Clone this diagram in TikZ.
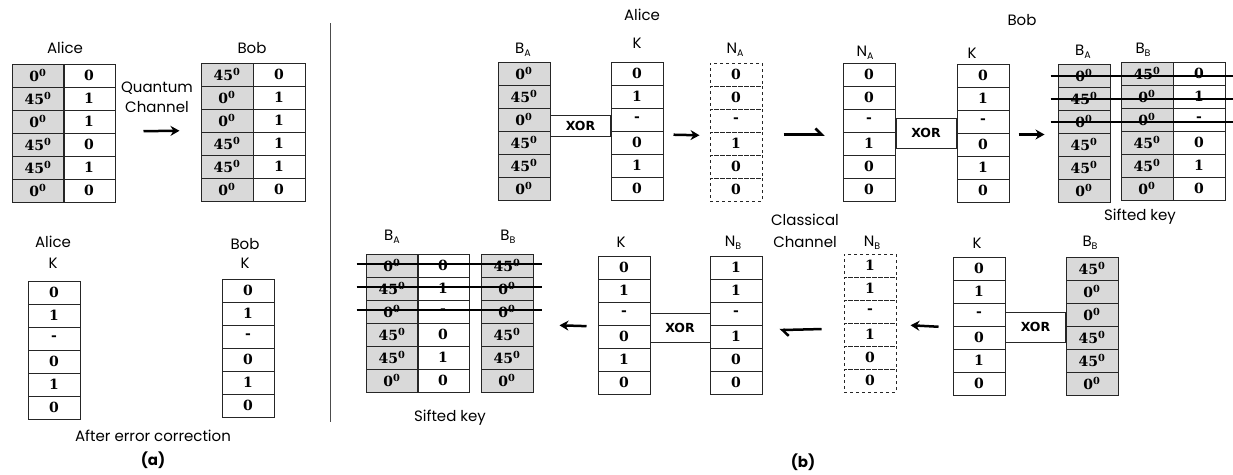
\documentclass[tikz,border=0pt]{standalone}
\usepackage{fontspec}
\setmainfont{Poppins}
\newfontfamily\cellfont{DejaVu Serif}
\newfontfamily\xorfont{DejaVu Sans}
\usetikzlibrary{arrows.meta}
\definecolor{cellgray}{RGB}{217,217,217}
\newcommand\dg[1]{#1\textsuperscript{0}}
\newcommand\sub[2]{#1\raisebox{-2.5pt}{\fontsize{9.5}{9.5}\selectfont #2}}
\newcommand\tcol[5]{%
  \foreach \t [count=\i] in {#5} {%
    \node[#4] (#1-\i) at ({#2+26},{#3+11.5+23*(\i-1)}) {\t};}}
\tikzset{
  cell/.style={draw=black!85, line width=1pt, minimum width=52pt, minimum height=23pt,
    inner sep=0pt, font=\cellfont\bfseries\fontsize{14}{14}\selectfont},
  gcell/.style={cell, fill=cellgray},
  dcell/.style={cell, dash pattern=on 3pt off 3pt},
  xorbox/.style={draw=black!85, line width=1pt, fill=white, minimum width=60pt,
    minimum height=#1, inner sep=0pt, font=\xorfont\bfseries\fontsize{12.5}{12.5}\selectfont},
  lbl/.style={font=\fontsize{15}{15}\selectfont, inner sep=0pt},
  arr/.style={line width=2.5pt, -{Stealth[length=9pt,width=10pt]}},
  harp/.style={line width=2.5pt, -{Straight Barb[left,length=6pt,width=12pt]}},
  strike/.style={line width=2pt, black},
}
\begin{document}
\begin{tikzpicture}[x=1pt,y=-1pt]
\useasboundingbox (0,0) rectangle (1233,474);
% ---------- (a) ----------
\tcol{aA1}{12}{64}{gcell}{\dg{0},\dg{45},\dg{0},\dg{45},\dg{45},\dg{0}}
\tcol{aA2}{63}{64}{cell}{0,1,1,0,1,0}
\tcol{aB1}{201}{63}{gcell}{\dg{45},\dg{0},\dg{0},\dg{45},\dg{45},\dg{0}}
\tcol{aB2}{253}{63}{cell}{0,1,1,1,1,0}
\tcol{aAK}{28}{281}{cell}{0,1,-,0,1,0}
\tcol{aBK}{222}{279}{cell}{0,1,-,0,1,0}
\node[lbl] (laA) at (65,48) {Alice};
\node[lbl] (laB) at (252,48) {Bob};
\node[lbl] (lq1) at (157,88) {Quantum};
\node[lbl] (lq2) at (157,107) {Channel};
\draw[arr, shorten <=28pt, shorten >=21pt] ([yshift=2pt]aA2-3.south east) -- ([yshift=2pt]aB1-3.south west);
\node[lbl] (laKA) at (53,242) {Alice};
\node[lbl] (laKA2) at (53,263) {K};
\node[lbl] (laKB) at (245,244) {Bob};
\node[lbl] (laKB2) at (245,263) {K};
\node[lbl] (laft) at (153,436) {After error correction};
\node[lbl, font=\fontsize{15}{15}\selectfont\bfseries] (lta) at (153,460) {(a)};
\draw[black!70, line width=1pt] (330,23) -- (330,422);
% ---------- (b) top ----------
\tcol{tBA}{498}{62}{gcell}{\dg{0},\dg{45},\dg{0},\dg{45},\dg{45},\dg{0}}
\tcol{tK}{611}{62}{cell}{0,1,-,0,1,0}
\tcol{tNA}{710}{63}{dcell}{0,0,-,1,0,0}
\tcol{tNA2}{843}{63}{cell}{0,0,-,1,0,0}
\tcol{tK2}{957}{64}{cell}{0,1,-,0,1,0}
\tcol{tBA2}{1058}{64}{gcell}{\dg{0},\dg{45},\dg{0},\dg{45},\dg{45},\dg{0}}
\tcol{tBB}{1121}{62}{gcell}{\dg{45},\dg{0},\dg{0},\dg{45},\dg{45},\dg{0}}
\tcol{tBB2}{1173}{62}{cell}{0,1,-,0,1,0}
\node[xorbox=21pt] (tx1) at (580.5,126) {XOR};
\node[xorbox=30pt] (tx2) at (926,133) {XOR};
\node[lbl] (ltAl) at (642,15) {Alice};
\node[lbl] (ltBA) at (523,50) {\sub{B}{A}};
\node[lbl] (ltK) at (637,43) {K};
\node[lbl] (ltNA) at (735,50) {\sub{N}{A}};
\node[lbl] (ltBob) at (1022,20) {Bob};
\node[lbl] (ltNA2) at (865,53) {\sub{N}{A}};
\node[lbl] (ltK2) at (972,53) {K};
\node[lbl] (ltBA2) at (1083,52) {\sub{B}{A}};
\node[lbl] (ltBB) at (1143,50) {\sub{B}{B}};
\node[lbl] (ltsk) at (1140,217) {Sifted key};
\node[lbl] (lcc1) at (805,220) {Classical};
\node[lbl] (lcc2) at (805,242) {Channel};
\draw[arr, shorten <=10pt, shorten >=10pt] ([yshift=-3pt]tK-3.south east) -- ([yshift=-3pt]tNA-3.south west);
\draw[harp, shorten <=21pt, shorten >=18pt] ([yshift=-2pt]tNA-3.south east) -- ([yshift=-2pt]tNA2-3.south west);
\draw[arr, shorten <=9pt, shorten >=13pt] ([yshift=-1pt]tK2-3.south east) -- ([yshift=-1pt]tBA2-3.south west);
\foreach \r in {1,2,3} {
  \draw[strike] ([xshift=-7pt]tBA2-\r.west) -- ([xshift=9pt]tBB2-\r.east |- tBA2-\r.west);
}
% ---------- (b) bottom ----------
\tcol{bBA}{366}{254}{gcell}{\dg{0},\dg{45},\dg{0},\dg{45},\dg{45},\dg{0}}
\tcol{bBA2}{417}{254}{cell}{0,1,-,0,1,0}
\tcol{bBB}{481}{254}{gcell}{\dg{45},\dg{0},\dg{0},\dg{45},\dg{45},\dg{0}}
\tcol{bK}{598}{256}{cell}{0,1,-,0,1,0}
\tcol{bNB}{710}{256}{cell}{1,1,-,1,0,0}
\tcol{bNBd}{844}{254}{dcell}{1,1,-,1,0,0}
\tcol{bK2}{953}{257}{cell}{0,1,-,0,1,0}
\tcol{bBB2}{1066}{257}{gcell}{\dg{45},\dg{0},\dg{0},\dg{45},\dg{45},\dg{0}}
\node[xorbox=29pt] (bx1) at (680,327.5) {XOR};
\node[xorbox=30pt] (bx2) at (1035.5,327) {XOR};
\node[lbl] (lbBA) at (392,237) {\sub{B}{A}};
\node[lbl] (lbBB) at (508,237) {\sub{B}{B}};
\node[lbl] (lbsk) at (450,418) {Sifted key};
\node[lbl] (lbK) at (621,242) {K};
\node[lbl] (lbNB) at (733,243) {\sub{N}{B}};
\node[lbl] (lbNB2) at (872,243) {\sub{N}{B}};
\node[lbl] (lbK2) at (977,243) {K};
\node[lbl] (lbBB2) at (1090,243) {\sub{B}{B}};
\node[lbl, font=\fontsize{15}{15}\selectfont\bfseries] (ltb) at (803,462) {(b)};
\draw[arr, shorten <=11pt, shorten >=26pt] ([yshift=-1pt]bK-3.south west) -- ([yshift=-1pt]bBB-3.south east);
\draw[harp, shorten <=22pt, shorten >=17pt] ([yshift=-5pt]bNBd-3.south west) -- ([yshift=-5pt]bNB-3.south east);
\draw[arr, shorten <=14pt, shorten >=14pt] ([yshift=-1pt]bK2-3.south west) -- ([yshift=-1pt]bNBd-3.south east);
\foreach \r in {1,2,3} {
  \draw[strike] ([xshift=-9pt,yshift=2pt]bBA-\r.west) -- ([xshift=8pt,yshift=2pt]bBB-\r.east |- bBA-\r.west);
}
\end{tikzpicture}
\end{document}
